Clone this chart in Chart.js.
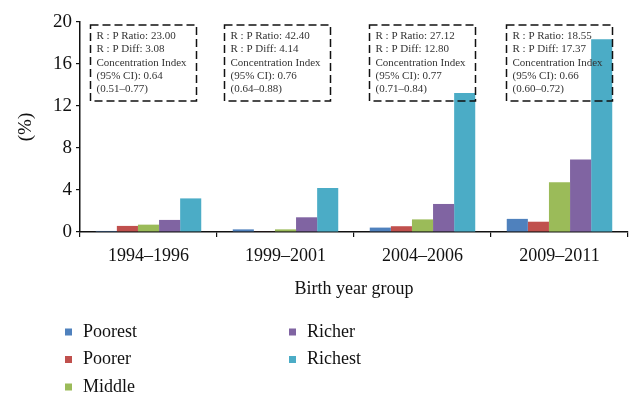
<!DOCTYPE html>
<html>
<head>
<meta charset="utf-8">
<script src="https://cdn.jsdelivr.net/npm/chart.js@4/dist/chart.umd.min.js"></script>
<style>
  body { margin: 0; background: #fff; }
  #wrap { width: 643px; height: 407px; position: relative; }
</style>
</head>
<body>
<div id="wrap"><canvas id="birthChart"></canvas></div>
<script>
const groups = ['1994–1996', '1999–2001', '2004–2006', '2009–2011'];
const quintiles = ['Poorest', 'Poorer', 'Middle', 'Richer', 'Richest'];
const poorest = [0.1, 0.25, 0.42, 1.25];
const poorer  = [0.58, 0.05, 0.55, 0.98];
const middle  = [0.7, 0.25, 1.2, 4.75];
const richer  = [1.15, 1.4, 2.67, 6.9];
const richest = [3.2, 4.2, 13.25, 18.35];
const colors = ['#4f81bd', '#c0504d', '#9bbb59', '#8064a2', '#4bacc6'];
const yTicks = [0, 4, 8, 12, 16, 20];

// text inside the dashed boxes, one list per birth year group
const notes = [
    ['R : P Ratio: 23.00', 'R : P Diff: 3.08', 'Concentration Index', '(95% CI): 0.64', '(0.51–0.77)'],
    ['R : P Ratio: 42.40', 'R : P Diff: 4.14', 'Concentration Index', '(95% CI): 0.76', '(0.64–0.88)'],
    ['R : P Ratio: 27.12', 'R : P Diff: 12.80', 'Concentration Index', '(95% CI): 0.77', '(0.71–0.84)'],
    ['R : P Ratio: 18.55', 'R : P Diff: 17.37', 'Concentration Index', '(95% CI): 0.66', '(0.60–0.72)']
];

const serif = '"Liberation Serif", "DejaVu Serif", serif';
const series = [poorest, poorer, middle, richer, richest];

const notesPlugin = {
    id: 'notes',
    afterDraw(chart) {
        const ctx = chart.ctx;
        const x = chart.scales.x;
        const shift = [-5, -8, 0, 0];
        ctx.save();
        notes.forEach(function(lines, i) {
            const cx = x.getPixelForValue(i) + shift[i];
            const left = cx - 53, top = 25, w = 106, h = 76;
            ctx.setLineDash([8, 4]);
            ctx.lineWidth = 1.5;
            ctx.strokeStyle = '#111';
            ctx.strokeRect(left, top, w, h);
            ctx.setLineDash([]);
            ctx.fillStyle = '#333';
            ctx.font = '11px ' + serif;
            ctx.textBaseline = 'middle';
            ctx.textAlign = 'left';
            lines.forEach(function(t, j) {
                ctx.fillText(t, left + 6, 36 + j * 13.4);
            });
        });

        // legend in two columns
        ctx.font = '18px ' + serif;
        ctx.textBaseline = 'middle';
        chart.data.datasets.forEach(function(ds, i) {
            const col = i < 3 ? 0 : 1;
            const row = i < 3 ? i : i - 3;
            const lx = col === 0 ? 65 : 289;
            const ly = 332 + row * 27.5;
            ctx.fillStyle = ds.backgroundColor;
            ctx.fillRect(lx, ly - 3.5, 7, 7);
            ctx.fillStyle = '#111';
            ctx.fillText(ds.label, lx + 18, ly);
        });
        ctx.restore();
    }
};

const ctx = document.getElementById('birthChart').getContext('2d');
const birthChart = new Chart(ctx, {
    type: 'bar',
    data: {
        labels: groups,
        datasets: quintiles.map(function(q, i) {
            return {
                label: q,
                data: series[i],
                backgroundColor: colors[i],
                borderWidth: 0
            };
        })
    },
    options: {
        responsive: true,
        maintainAspectRatio: false,
        animation: false,
        layout: { padding: { top: 22, right: 15, bottom: 107, left: 0 } },
        datasets: { bar: { categoryPercentage: 0.77, barPercentage: 1.0 } },
        plugins: {
            legend: { display: false },
            tooltip: { enabled: false }
        },
        scales: {
            x: {
                grid: { drawOnChartArea: false, tickLength: 5, color: '#111', lineWidth: 1.2 },
                border: { color: '#111', width: 1.5 },
                ticks: { color: '#111', font: { family: serif, size: 18 }, padding: 8 },
                title: {
                    display: true, text: 'Birth year group', color: '#111',
                    font: { family: serif, size: 18 }, padding: { top: 8, bottom: 0 }
                },
                afterFit(scale) { scale.height = 68; }
            },
            y: {
                min: 0, max: 20,
                afterBuildTicks(scale) { scale.ticks = yTicks.map(v => ({ value: v })); },
                grid: { drawOnChartArea: false, tickLength: 4, color: '#111', lineWidth: 1.2 },
                border: { color: '#111', width: 1.5 },
                ticks: { color: '#111', font: { family: serif, size: 19 }, padding: 4 },
                title: {
                    display: true, text: '(%)', color: '#111',
                    font: { family: serif, size: 19 }, padding: { top: 15, bottom: 0 }
                },
                afterFit(scale) { scale.width = 80; }
            }
        }
    },
    plugins: [notesPlugin]
});
</script>
</body>
</html>
